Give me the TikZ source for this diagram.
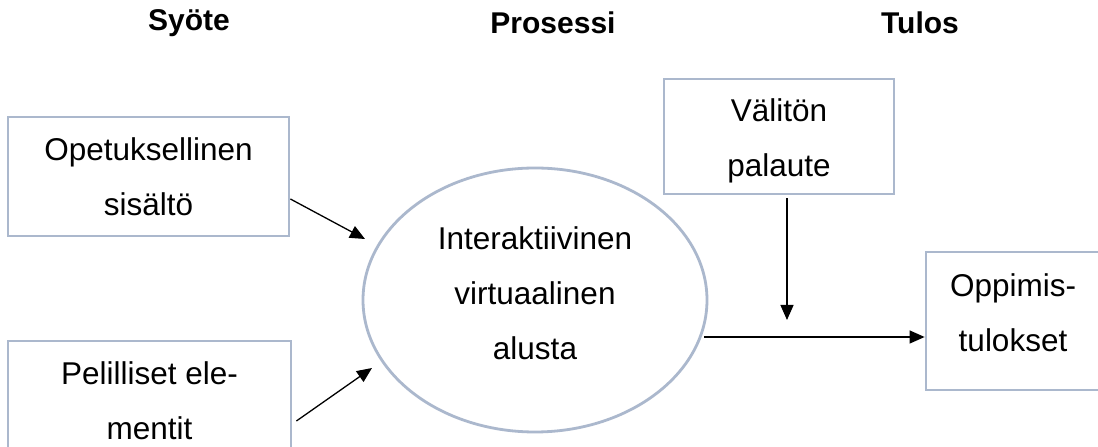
\documentclass[tikz,border=0pt]{standalone}
\usepackage{fontspec}
\setmainfont{Liberation Sans}
\usetikzlibrary{shapes.geometric,arrows.meta,calc}
\definecolor{frame}{HTML}{ABB8CD}
\tikzset{
  box/.style={draw=frame, line width=2.8pt, rectangle, inner sep=0pt},
  platform/.style={draw=frame, line width=2.8pt, ellipse, inner sep=0pt},
  label/.style={align=center, inner sep=0pt, font=\fontsize{31.5}{55}\selectfont},
  heading/.style={font=\bfseries\fontsize{30}{36}\selectfont, inner sep=0pt},
  flow/.style={-{Triangle[length=15pt,width=13pt]}, line width=1.3pt, black}
}
\begin{document}
\begin{tikzpicture}[x=1pt,y=1pt]
  \clip (0,0) rectangle (1098,447);
  \fill[white] (0,0) rectangle (1098,447);

  % column headings
  \node[heading] (hin)  at (189,424) {Syöte};
  \node[heading] (hpro) at (553,424) {Prosessi};
  \node[heading] (hout) at (920,424) {Tulos};

  % inputs
  \node[box, label, minimum width=281pt, minimum height=119pt] (content) at (148.5,270.5)
    {Opetuksellinen\\sisältö};
  \node[box, label, minimum width=283pt, minimum height=119pt] (game) at (149.5,46.5)
    {Pelilliset ele-\\mentit};

  % process
  \node[platform, minimum width=344pt, minimum height=264pt] (ell) at (535,147) {};
  \node[label] (elltxt) at (535,154) {Interaktiivinen\\virtuaalinen\\alusta};

  % feedback and outcome
  \node[box, minimum width=230pt, minimum height=115pt] (fb) at (779,310.5) {};
  \node[label] (fbtxt) at (779,306.5) {Välitön\\palaute};
  \node[box, minimum width=174pt, minimum height=138pt] (out) at (1013,126) {};
  \node[label] (outtxt) at (1013,134.5) {Oppimis-\\tulokset};

  \coordinate (fbend) at (787,127);

  % connectors
  \draw[flow] ([yshift=-22.5pt]content.east) -- ($(ell.center)+(-170,61)$);
  \draw[flow] ([xshift=4pt,yshift=-20.5pt]game.east) -- ($(ell.center)+(-163,-68)$);
  \draw[flow] ($(ell.center)+(169,-37)$) -- ([yshift=-16pt]out.west);
  \draw[flow] ([xshift=8pt,yshift=-3pt]fb.south) -- (fbend);
\end{tikzpicture}
\end{document}
